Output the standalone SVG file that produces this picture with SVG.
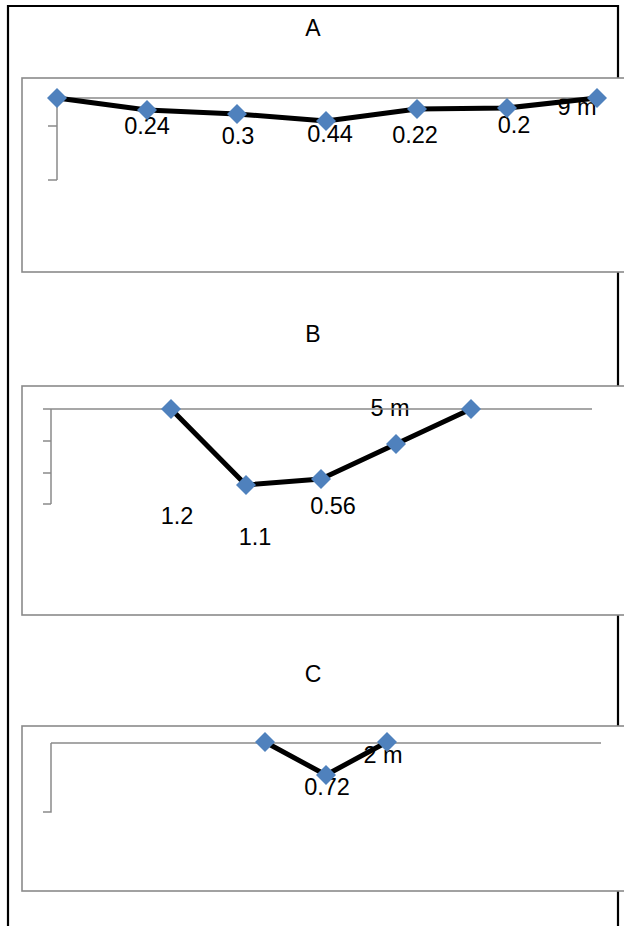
<svg xmlns="http://www.w3.org/2000/svg" width="624" height="926" viewBox="0 0 624 926">
<style>
.frame{fill:none;stroke:#000;stroke-width:2.2}
.box{fill:#fff;stroke:#8a8a8a;stroke-width:1.6}
.axis{fill:none;stroke:#8a8a8a;stroke-width:1.5}
.data{fill:none;stroke:#000;stroke-width:5;stroke-linejoin:round}
.title{font-family:"Liberation Sans",Arial,sans-serif;font-size:23px;fill:#000;text-anchor:middle}
.lbl{font-family:"Liberation Sans",Arial,sans-serif;font-size:23.5px;fill:#000;text-anchor:middle}
</style>
<defs>
<path id="mk" d="M0,-10 L10,0 L0,10 L-10,0 Z" fill="#4f81bd"/>
</defs>
<g id="frame">
<path class="frame" d="M8,926 V6 H618 V926"/>
</g>
<g id="chartA">
<text class="title" x="313" y="36">A</text>
<rect class="box" x="22" y="78" width="620" height="194"/>
<g id="labelsA">
<text class="lbl" x="147" y="134">0.24</text>
<text class="lbl" x="238" y="144">0.3</text>
<text class="lbl" x="330" y="142">0.44</text>
<text class="lbl" x="415" y="143">0.22</text>
<text class="lbl" x="514" y="133">0.2</text>
<text class="lbl" x="577" y="115">9 m</text>
</g>
<path class="axis" d="M57,98 H600 M57,98 V180 M48,126 H57 M48,180 H57"/>
<g id="connectorsA">
<polyline class="data" points="57,98 147,110 237,114 326,121 417,109 507,108 597,98"/>
</g>
<g id="pointsA">
<use href="#mk" x="57" y="98"/>
<use href="#mk" x="147" y="110"/>
<use href="#mk" x="237" y="114"/>
<use href="#mk" x="326" y="121"/>
<use href="#mk" x="417" y="109"/>
<use href="#mk" x="507" y="108"/>
<use href="#mk" x="597" y="98"/>
</g>
</g>
<g id="chartB">
<text class="title" x="313" y="342">B</text>
<rect class="box" x="22" y="386" width="620" height="229"/>
<g id="labelsB">
<text class="lbl" x="177" y="524">1.2</text>
<text class="lbl" x="255" y="545">1.1</text>
<text class="lbl" x="333" y="514">0.56</text>
<text class="lbl" x="390" y="416">5 m</text>
</g>
<path class="axis" d="M43,409 H592 M51,409 V504 M43,441 H51 M43,473 H51 M43,504 H51"/>
<g id="connectorsB">
<polyline class="data" points="171,409 246,485 321,479 396,444 471,409"/>
</g>
<g id="pointsB">
<use href="#mk" x="171" y="409"/>
<use href="#mk" x="246" y="485"/>
<use href="#mk" x="321" y="479"/>
<use href="#mk" x="396" y="444"/>
<use href="#mk" x="471" y="409"/>
</g>
</g>
<g id="chartC">
<text class="title" x="313" y="682">C</text>
<rect class="box" x="22" y="726" width="620" height="165"/>
<g id="labelsC">
<text class="lbl" x="327" y="795">0.72</text>
<text class="lbl" x="383" y="763">2 m</text>
</g>
<path class="axis" d="M51,743 H601 M51,743 V812 H43"/>
<g id="connectorsC">
<polyline class="data" points="265,742 326,775 387,742"/>
</g>
<g id="pointsC">
<use href="#mk" x="265" y="742"/>
<use href="#mk" x="326" y="775"/>
<use href="#mk" x="387" y="742"/>
</g>
</g>
</svg>
